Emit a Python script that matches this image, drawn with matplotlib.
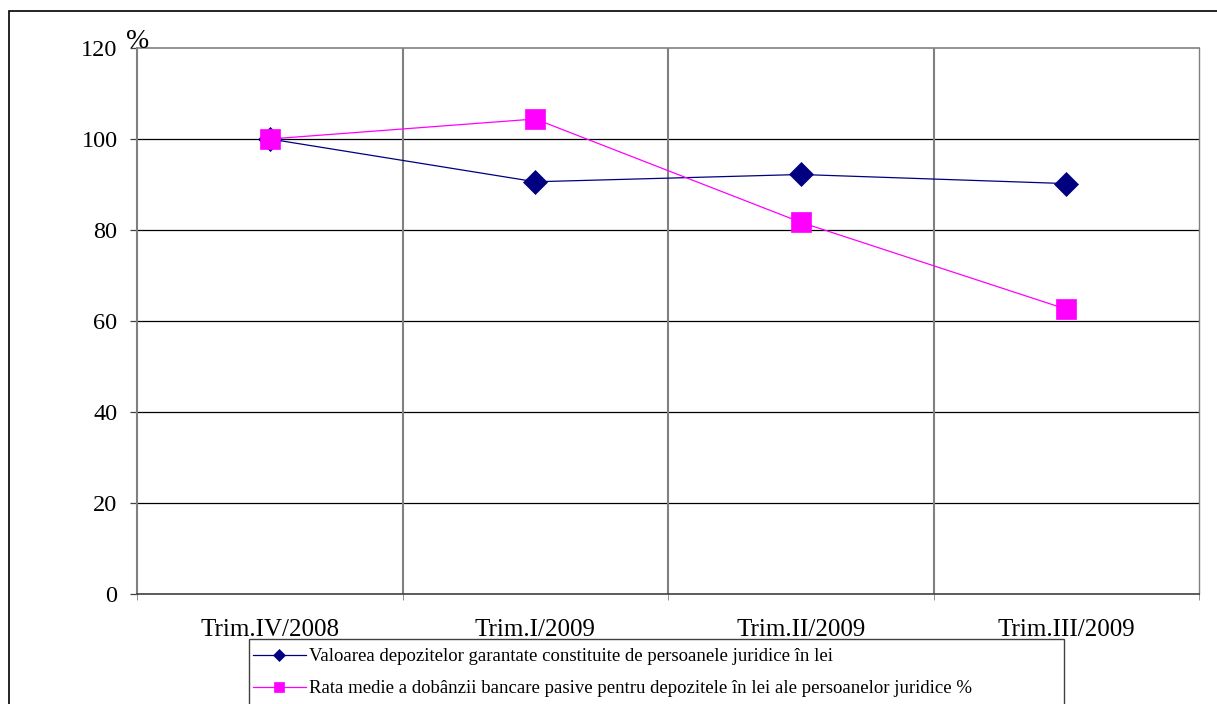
import numpy as np
import matplotlib
matplotlib.use("Agg")
from matplotlib import pyplot as plt
from matplotlib.patches import Rectangle

plt.rcParams['font.family'] = ['Liberation Serif', 'DejaVu Serif']

# trimestre si indici (%)
trim = ['Trim.IV/2008', 'Trim.I/2009', 'Trim.II/2009', 'Trim.III/2009']
depozite = [100.0, 90.6, 92.2, 90.2]
dobanda = [100.0, 104.4, 81.7, 62.6]
yticks = [0, 20, 40, 60, 80, 100, 120]

lbl_dep = 'Valoarea depozitelor garantate constituite de persoanele juridice în lei'
lbl_dob = 'Rata medie a dobânzii bancare pasive pentru depozitele în lei ale persoanelor juridice %'

W, H = 1217, 704
fig = plt.figure(figsize=(W/100, H/100), dpi=100)
ax = fig.add_axes([137/W, 1-594/H, (1199-137)/W, (594-48)/H])

x = np.arange(len(trim))
l1, = ax.plot(x, depozite, color='#000080', lw=0.9, marker='D', ms=12.5, mew=0.5, label=lbl_dep, zorder=4)
l2, = ax.plot(x, dobanda, color='#FF00FF', lw=0.9, marker='s', ms=14, mew=0.5, label=lbl_dob, zorder=5)

ax.set_xlim(-0.5, len(trim)-0.5)
ax.set_ylim(0, 120)
ax.set_yticks(yticks)
ax.set_yticklabels([str(v) for v in yticks], fontsize=17.5)

# grila orizontala neagra, separatoare verticale gri
for v in yticks[1:-1]:
    ax.axhline(v, color='black', lw=0.9, zorder=1)
for b in np.arange(0.5, len(trim)-1, 1.0):
    ax.axvline(b, color='#808080', lw=1.5, zorder=1)

ax.set_xticks(x)
ax.set_xticklabels(trim, fontsize=18)
ax.set_xticks(np.arange(-0.5, len(trim), 1.0), minor=True)
ax.tick_params(axis='x', which='major', length=0, pad=18)
ax.tick_params(axis='x', which='minor', length=4, color='#808080', direction='out')
ax.tick_params(axis='y', length=5, width=0.9, color='#404040', pad=9)

for s in ['left', 'top', 'right']:
    ax.spines[s].set_color('#808080')
ax.spines['left'].set_linewidth(1.5)
ax.spines['top'].set_linewidth(1.2)
ax.spines['right'].set_linewidth(1.0)
ax.spines['bottom'].set_color('#404040')
ax.spines['bottom'].set_linewidth(1.2)

fig.text(138/W, 1-42/H, '%', fontsize=20, ha='center', va='center')

leg = fig.legend(handles=[l1, l2], loc='upper left', bbox_to_anchor=(253/W, 1-648/H),
                 fontsize=13.5, frameon=False, markerscale=0.5,
                 handlelength=2.8, handletextpad=0.2,
                 labelspacing=0.8, borderpad=0, borderaxespad=0)

# chenarul legendei si chenarul exterior
fig.patches.append(Rectangle((249/W, -0.05), (1064-249)/W, 1-639/H+0.05, transform=fig.transFigure,
                             fill=False, edgecolor='#404040', lw=1.0))
fig.patches.append(Rectangle((9/W, -0.05), 1.1, 1-11/H+0.05, transform=fig.transFigure,
                             fill=False, edgecolor='black', lw=1.2))

fig.savefig('out.png', dpi=100)
